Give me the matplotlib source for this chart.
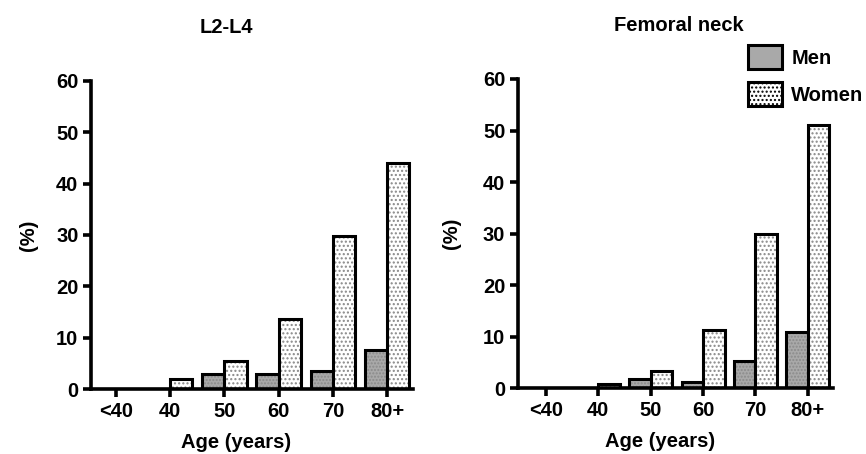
import numpy as np
import matplotlib
matplotlib.use('Agg')
import matplotlib.pyplot as plt
from matplotlib.patches import Patch

plt.rcParams['font.family'] = ['Liberation Sans', 'DejaVu Sans']
plt.rcParams['font.weight'] = 'bold'
plt.rcParams['hatch.linewidth'] = 1.0

# Data
age_groups = ['<40', '40', '50', '60', '70', '80+']
spine_men = [0, 0, 2.9, 2.9, 3.6, 7.7]
spine_women = [0, 1.9, 5.5, 13.6, 29.8, 44.0]
neck_men = [0, 0, 1.7, 1.2, 5.2, 10.9]
neck_women = [0, 0.8, 3.3, 11.3, 29.9, 51.0]

# title, men, women, axes rect, left xlim, title x (axes frac), xlabel x (axes frac), ylabel pad
panels = [
    ('L2-L4', spine_men, spine_women, [0.105, 0.143, 0.372, 0.679], -0.46, 0.42, 0.45, 13),
    ('Femoral neck', neck_men, neck_women, [0.598, 0.145, 0.364, 0.681], -0.53, 0.51, 0.45, 16),
]

fig = plt.figure(figsize=(8.66, 4.54), dpi=100)
x = np.arange(len(age_groups))
w = 0.41
fs = 14.5

def draw_bars(ax, xs, vals, face, hatch, hatch_col):
    # hatch layer first, then thick black outline on top
    ax.bar(xs, vals, w, color=face, edgecolor=hatch_col, hatch=hatch, linewidth=0)
    ax.bar(xs, vals, w, color='none', edgecolor='black', linewidth=2.2)

for title, men, women, rect, xleft, tx, lx, ypad in panels:
    ax = fig.add_axes(rect)
    draw_bars(ax, x - w / 2, men, '#a9a9a9', '.....', '#8a8a8a')
    draw_bars(ax, x + w / 2, women, 'white', '....', '#888888')
    ax.set_xlim(xleft, 5.48)
    ax.set_ylim(0, 60)
    ax.set_yticks(range(0, 61, 10))
    ax.set_xticks(x)
    ax.set_xticklabels(age_groups)
    for s in ['top', 'right']:
        ax.spines[s].set_visible(False)
    for s in ['left', 'bottom']:
        ax.spines[s].set_linewidth(2.6)
    ax.tick_params(direction='out', length=6, width=2.6, labelsize=fs, pad=3)
    ax.set_ylabel('(%)', fontsize=fs, fontweight='bold', labelpad=ypad)
    ax.set_xlabel('Age (years)', fontsize=fs, fontweight='bold')
    ax.xaxis.set_label_coords(lx, -0.143)
    ax.text(tx, 1.0 + 53 / 308, title, transform=ax.transAxes, ha='center',
            va='center', fontsize=fs, fontweight='bold')

handles = [
    Patch(facecolor='#a9a9a9', edgecolor='black', linewidth=2.2, label='Men'),
    Patch(facecolor='white', edgecolor='black', linewidth=2.2, hatch='....', label='Women'),
]
fig.legend(handles=handles, loc='upper right', bbox_to_anchor=(1.018, 0.94),
           frameon=False, fontsize=fs, handlelength=1.7, handleheight=1.45,
           handletextpad=0.45, labelspacing=0.65)

fig.savefig('out.png', dpi=100)
